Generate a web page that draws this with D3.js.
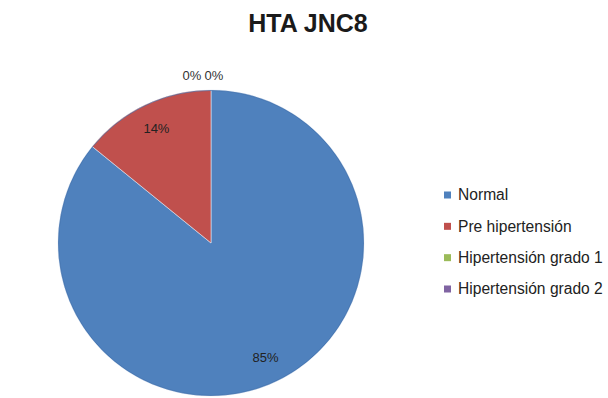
<!DOCTYPE html>
<html>
<head>
<meta charset="utf-8">
<script src="https://cdn.jsdelivr.net/npm/d3@7/dist/d3.min.js"></script>
<style>
  html, body { margin: 0; padding: 0; background: #fff; }
  svg { display: block; }
</style>
</head>
<body>
<div id="chart"></div>
<script>
// HTA JNC8 classification shares (%)
const categories = ["Normal", "Pre hipertensión", "Hipertensión grado 1", "Hipertensión grado 2"];
const values = [85, 14, 0, 0];
const colors = ["#4F81BD", "#C0504D", "#9BBB59", "#8064A2"];
const title = "HTA JNC8";

const width = 608, height = 398;
const svg = d3.select("#chart").append("svg")
  .attr("width", width).attr("height", height);

svg.append("text")
  .attr("x", 308).attr("y", 32)
  .attr("text-anchor", "middle")
  .attr("font-family", "Liberation Sans, Arial, sans-serif")
  .attr("font-weight", "bold")
  .attr("font-size", 25)
  .attr("fill", "#1a1a1a")
  .text(title);

const cx = 211, cy = 243, r = 153;
const data = categories.map((c, i) => ({ name: c, value: values[i], color: colors[i] }));
const pie = d3.pie().sort(null).value(d => d.value);
const arcs = pie(data);
const arc = d3.arc().innerRadius(0).outerRadius(r);
const labelArc = d3.arc().innerRadius(r * 0.83).outerRadius(r * 0.83);

const g = svg.append("g").attr("transform", `translate(${cx},${cy})`);

g.selectAll("path.slice")
  .data(arcs.filter(a => a.value > 0))
  .join("path")
  .attr("class", "slice")
  .attr("d", arc)
  .attr("fill", d => d.data.color)
  .attr("stroke", "#dfe8f3")
  .attr("stroke-width", 0.6);

// subtle darker rim along the outer edge
g.append("circle").attr("r", r - 0.5)
  .attr("fill", "none").attr("stroke", "#3d6da8").attr("stroke-width", 1).attr("opacity", 0.6);

const fmt = v => Math.round(v) + "%";
const labelFont = "Liberation Sans, Arial, sans-serif";

// labels for visible slices sit inside along the mid-angle
g.selectAll("text.inside")
  .data(arcs.filter(a => a.value > 0))
  .join("text")
  .attr("class", "inside")
  .attr("transform", d => `translate(${labelArc.centroid(d)})`)
  .attr("text-anchor", "middle")
  .attr("dy", "0.35em")
  .attr("font-family", labelFont)
  .attr("font-size", 13)
  .attr("fill", "#222")
  .text(d => fmt(d.value));

// zero-size slices get labels above the pie, spread side by side
const zeros = arcs.filter(a => a.value === 0);
const outerR = r + 15;
const labW = 19, gap = 3;
const total = zeros.length * labW + (zeros.length - 1) * gap;
zeros.forEach((d, i) => {
  const a = d.startAngle;
  const x = Math.sin(a) * outerR - total / 2 - 8 + i * (labW + gap) + labW / 2;
  const y = -Math.cos(a) * outerR;
  g.append("text")
    .attr("x", x).attr("y", y)
    .attr("text-anchor", "middle")
    .attr("dy", "0.35em")
    .attr("font-family", labelFont)
    .attr("font-size", 13)
    .attr("fill", "#333")
    .text(fmt(d.value));
});

// legend
const legendY = d3.scalePoint().domain(categories).range([195, 289]);
const lg = svg.append("g");
const items = lg.selectAll("g").data(data).join("g")
  .attr("transform", d => `translate(444,${legendY(d.name)})`);
items.append("rect")
  .attr("x", 0).attr("y", -3.5).attr("width", 7).attr("height", 7)
  .attr("fill", d => d.color);
items.append("text")
  .attr("x", 14).attr("dy", "0.35em")
  .attr("font-family", labelFont)
  .attr("font-size", 15.6)
  .attr("fill", "#222")
  .text(d => d.name);
</script>
</body>
</html>
